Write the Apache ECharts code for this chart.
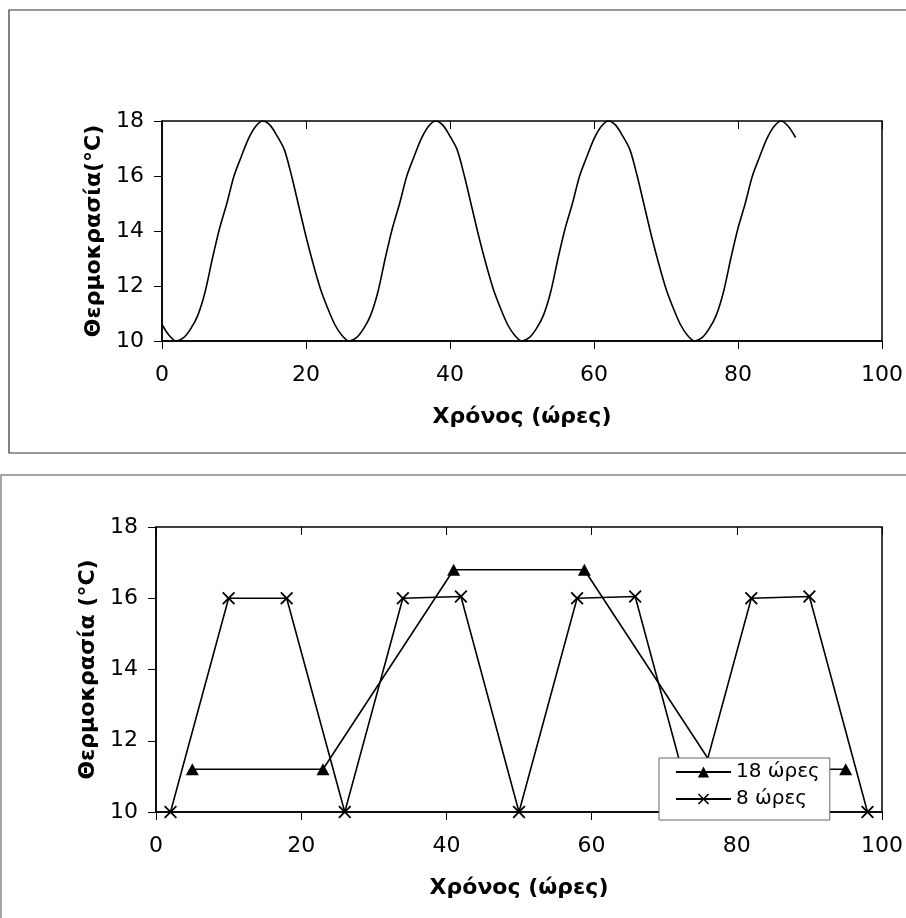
<!DOCTYPE html>
<html>
<head>
<meta charset="utf-8">
<title>Θερμοκρασία</title>
<script src="https://cdn.jsdelivr.net/npm/echarts@6/dist/echarts.min.js"></script>
<style>
    html, body {margin: 0; padding: 0; background: #fff;}
    #main {width: 906px; height: 918px;}
</style>
</head>
<body>
<div id="main"></div>
<script>
// πάνω διάγραμμα: ωριαίες τιμές
var topHours = [0, 1, 2, 3, 4, 5, 6, 7, 8, 9, 10, 11, 12, 13, 14, 15, 16, 17, 18, 19, 20, 21, 22, 23, 24, 25,
    26, 27, 28, 29, 30, 31, 32, 33, 34, 35, 36, 37, 38, 39, 40, 41, 42, 43, 44, 45, 46, 47, 48, 49,
    50, 51, 52, 53, 54, 55, 56, 57, 58, 59, 60, 61, 62, 63, 64, 65, 66, 67, 68, 69, 70, 71, 72, 73,
    74, 75, 76, 77, 78, 79, 80, 81, 82, 83, 84, 85, 86, 87, 88];
var topTemps = [10.6, 10.2, 10.0, 10.12, 10.45, 10.95, 11.8, 13.0, 14.1, 15.0, 16.0, 16.7, 17.35, 17.8, 18.0, 17.85, 17.45, 16.95, 16.0, 14.9, 13.8, 12.8, 11.9, 11.2, 10.6, 10.2,
    10.0, 10.12, 10.45, 10.95, 11.8, 13.0, 14.1, 15.0, 16.0, 16.7, 17.35, 17.8, 18.0, 17.85, 17.45, 16.95, 16.0, 14.9, 13.8, 12.8, 11.9, 11.2, 10.6, 10.2,
    10.0, 10.12, 10.45, 10.95, 11.8, 13.0, 14.1, 15.0, 16.0, 16.7, 17.35, 17.8, 18.0, 17.85, 17.45, 16.95, 16.0, 14.9, 13.8, 12.8, 11.9, 11.2, 10.6, 10.2,
    10.0, 10.12, 10.45, 10.95, 11.8, 13.0, 14.1, 15.0, 16.0, 16.7, 17.35, 17.8, 18.0, 17.8, 17.4];

// κάτω διάγραμμα
var hours18 = [5, 23, 41, 59, 77, 95];
var temps18 = [11.2, 11.2, 16.8, 16.8, 11.2, 11.2];
var hours8 = [2, 10, 18, 26, 34, 42, 50, 58, 66, 74, 82, 90, 98];
var temps8 = [10, 16, 16, 10, 16, 16.05, 10, 16, 16.05, 10, 16, 16.05, 10];

var names = ['18 ώρες', '8 ώρες'];
var xTicks = [0, 100, 20];
var yTicks = [10, 18, 2];

function pairs(xs, ys) {
    var out = [];
    for (var i = 0; i < xs.length; i++) {
        out.push([xs[i], ys[i]]);
    }
    return out;
}

var labelFont = 'DejaVu Sans, Verdana, sans-serif';
var titleFont = 'DejaVu Sans, Verdana, sans-serif';
var crossMark = 'path://M0,1L1,0L5,4L9,0L10,1L6,5L10,9L9,10L5,6L1,10L0,9L4,5Z';

function xAxisFor(gridIndex, inner) {
    var ax = {
        type: 'value',
        gridIndex: gridIndex,
        min: xTicks[0],
        max: xTicks[1],
        interval: xTicks[2],
        splitLine: {show: false},
        axisLine: {show: !inner, lineStyle: {color: '#000', width: 1.5}},
        axisTick: {show: true, inside: inner, length: 8, lineStyle: {color: '#000', width: 1}},
        axisLabel: {show: !inner, color: '#000', fontSize: 22, fontFamily: labelFont, margin: 23}
    };
    if (!inner) {
        ax.name = 'Χρόνος (ώρες)';
        ax.nameLocation = 'middle';
        ax.nameGap = 65;
        ax.nameTextStyle = {color: '#000', fontSize: 22, fontWeight: 'bold', fontFamily: titleFont};
    }
    return ax;
}

function yAxisFor(gridIndex, inner, title) {
    var ax = {
        type: 'value',
        gridIndex: gridIndex,
        min: yTicks[0],
        max: yTicks[1],
        interval: yTicks[2],
        splitLine: {show: false},
        axisLine: {show: !inner, lineStyle: {color: '#000', width: 1.5}},
        axisTick: {show: true, inside: inner, length: 8, lineStyle: {color: '#000', width: 1}},
        axisLabel: {show: !inner, color: '#000', fontSize: 22, fontFamily: labelFont, margin: 18}
    };
    if (!inner) {
        ax.name = title;
        ax.nameLocation = 'middle';
        ax.nameGap = 50;
        ax.nameTextStyle = {color: '#000', fontSize: 22, fontWeight: 'bold', fontFamily: titleFont};
    }
    return ax;
}

var myChart = echarts.init(document.getElementById('main'), null, {renderer: 'canvas'});

var option = {
    backgroundColor: '#fff',
    animation: false,
    graphic: [
        {
            type: 'rect', z: 0, silent: true,
            shape: {x: 9, y: 10, width: 920, height: 443},
            style: {fill: 'none', stroke: '#333', lineWidth: 1.2}
        },
        {
            type: 'rect', z: 0, silent: true,
            shape: {x: 1, y: 475, width: 920, height: 460},
            style: {fill: 'none', stroke: '#888', lineWidth: 1.5}
        }
    ],
    grid: [
        {left: 162, right: 24, top: 121, height: 220, show: true, borderColor: '#000', borderWidth: 1.5, containLabel: false},
        {left: 156, right: 18, top: 527, height: 285, show: true, borderColor: '#000', borderWidth: 1.5, containLabel: false}
    ],
    xAxis: [xAxisFor(0, false), xAxisFor(0, true), xAxisFor(1, false), xAxisFor(1, true)],
    yAxis: [yAxisFor(0, false, 'Θερμοκρασία(°C)'), yAxisFor(0, true), yAxisFor(1, false, 'Θερμοκρασία (°C)'), yAxisFor(1, true)],
    legend: {
        data: names,
        orient: 'vertical',
        left: 659,
        top: 758,
        padding: [4, 10, 11, 16],
        itemGap: 7,
        itemWidth: 55,
        itemHeight: 14,
        backgroundColor: '#fff',
        borderColor: '#666',
        borderWidth: 1,
        borderRadius: 0,
        textStyle: {color: '#000', fontSize: 20, fontFamily: labelFont}
    },
    series: [
        {
            type: 'line',
            xAxisIndex: 0,
            yAxisIndex: 0,
            data: pairs(topHours, topTemps),
            smooth: 0.3,
            symbol: 'none',
            lineStyle: {color: '#000', width: 1.6}
        },
        {
            name: names[0],
            type: 'line',
            xAxisIndex: 2,
            yAxisIndex: 2,
            data: pairs(hours18, temps18),
            symbol: 'triangle',
            symbolSize: [13, 12],
            itemStyle: {color: '#000'},
            lineStyle: {color: '#000', width: 1.6}
        },
        {
            name: names[1],
            type: 'line',
            xAxisIndex: 2,
            yAxisIndex: 2,
            data: pairs(hours8, temps8),
            symbol: crossMark,
            symbolSize: 13,
            itemStyle: {color: '#000'},
            lineStyle: {color: '#000', width: 1.6}
        }
    ]
};
myChart.setOption(option);
</script>
</body>
</html>
